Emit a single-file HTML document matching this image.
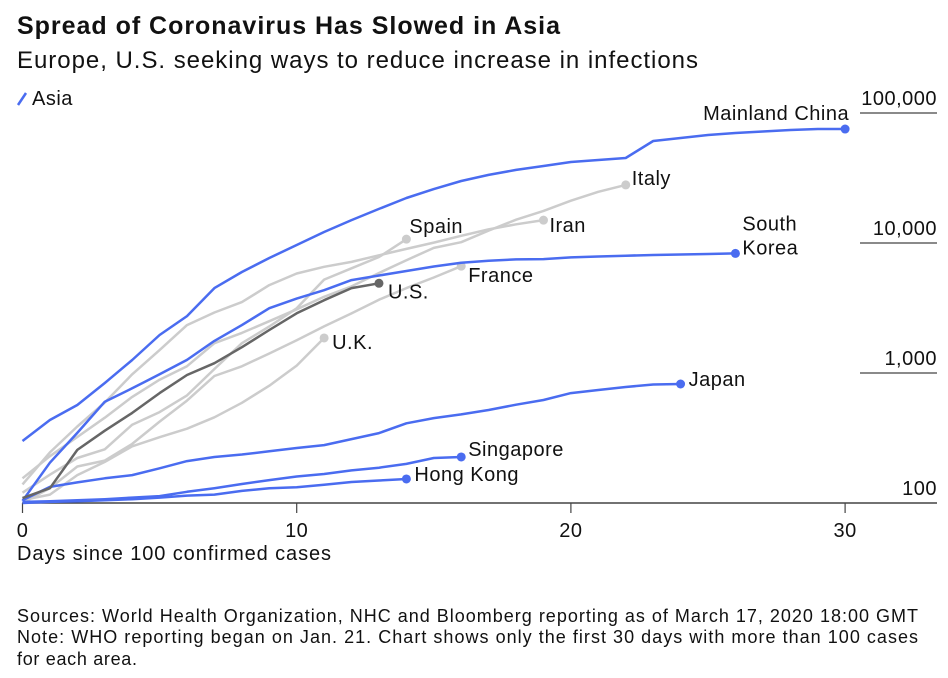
<!DOCTYPE html>
<html><head><meta charset="utf-8"><style>
body{margin:0;background:#fff;font-family:"Liberation Sans",sans-serif;}
#wrap{position:relative;width:948px;height:678px;overflow:hidden}
svg text{font-family:"Liberation Sans",sans-serif;fill:#111}
.lb{font-size:20px;letter-spacing:0.5px}
</style></head><body>
<div id="wrap">
<svg id="svg" width="948" height="678">
<text x="17" y="34" font-size="25" font-weight="bold" textLength="543" lengthAdjust="spacing">Spread of Coronavirus Has Slowed in Asia</text>
<text x="17" y="68" font-size="24" textLength="681" lengthAdjust="spacing">Europe, U.S. seeking ways to reduce increase in infections</text>
<line x1="18" y1="105" x2="26" y2="93" stroke="#4a6cf0" stroke-width="2.5"/>
<text x="32" y="105" class="lb">Asia</text>
<g id="grid"></g><g id="lines"></g><g id="labels"></g>
<text x="17" y="560" font-size="20" textLength="314" lengthAdjust="spacing">Days since 100 confirmed cases</text>
<text x="17" y="622" font-size="18" textLength="901" lengthAdjust="spacing">Sources: World Health Organization, NHC and Bloomberg reporting as of March 17, 2020 18:00 GMT</text>
<text x="17" y="643" font-size="18" textLength="901" lengthAdjust="spacing">Note: WHO reporting began on Jan. 21. Chart shows only the first 30 days with more than 100 cases</text>
<text x="17" y="665" font-size="18" textLength="120" lengthAdjust="spacing">for each area.</text>
</svg></div>
<script>
const xTicks=[0,10,20,30];
const yTicks=[100,1000,10000,100000];
const yTickLabels=["100","1,000","10,000","100,000"];
const china=[300,435,567,838,1260,1960,2740,4500,5980,7670,9650,12150,15000,18300,22200,26000,30000,33400,36500,39100,42000,43500,45100,60900,64200,67700,70200,72100,74000,75300,75300];
const korea=[104,204,346,602,763,977,1261,1766,2337,3150,3736,4335,5186,5621,6088,6593,7041,7313,7478,7513,7755,7869,7979,8086,8162,8236,8320];
const japan=[105,133,144,155,164,185,210,226,236,250,265,279,310,345,410,450,480,519,570,620,700,740,780,815,823];
const singapore=[102,103,105,107,110,113,122,130,140,150,160,167,178,187,200,222,226];
const hongkong=[100,102,103,105,107,110,114,116,124,130,132,138,145,149,153];
const italy=[155,229,322,453,655,888,1128,1694,2036,2502,3089,3858,4636,5883,7375,9172,10149,12462,15113,17660,21157,24747,27980];
const iran=[139,245,388,593,978,1501,2336,2922,3513,4747,5823,6566,7161,8042,9000,10075,11364,12729,13938,14991];
const spain=[120,165,222,259,400,500,673,1073,1695,2277,3146,5232,6391,7798,10700];
const france=[100,130,191,212,285,423,613,949,1126,1412,1784,2281,2876,3661,4499,5423,6633];
const uk=[105,116,164,207,273,321,373,456,590,798,1140,1860];
const us=[109,130,256,360,493,700,965,1190,1580,2140,2880,3630,4500,4900];
const series=[
 {n:"italy",d:italy,c:"#cccccc",lab:"Italy",dx:6,dy:0},
 {n:"iran",d:iran,c:"#cccccc",lab:"Iran",dx:6,dy:12},
 {n:"spain",d:spain,c:"#cccccc",lab:"Spain",dx:3,dy:-6},
 {n:"france",d:france,c:"#cccccc",lab:"France",dx:7,dy:16},
 {n:"uk",d:uk,c:"#cccccc",lab:"U.K.",dx:8,dy:11},
 {n:"china",d:china,c:"#4a6cf0",lab:"Mainland China",dx:4,dy:-9,anchor:"end"},
 {n:"korea",d:korea,c:"#4a6cf0",lab:"Korea",dx:7,dy:1,lab2:"South"},
 {n:"japan",d:japan,c:"#4a6cf0",lab:"Japan",dx:8,dy:2},
 {n:"singapore",d:singapore,c:"#4a6cf0",lab:"Singapore",dx:7,dy:-1},
 {n:"hongkong",d:hongkong,c:"#4a6cf0",lab:"Hong Kong",dx:8,dy:2},
 {n:"us",d:us,c:"#666666",lab:"U.S.",dx:9,dy:15}
];
const X=d=>22.5+d*27.42;
const Y=v=>503-130*Math.log10(v/100);
const NS="http://www.w3.org/2000/svg";
function mk(t,a,p){const e=document.createElementNS(NS,t);for(const k in a)e.setAttribute(k,a[k]);p.appendChild(e);return e;}
const grid=document.getElementById('grid'),lines=document.getElementById('lines'),labels=document.getElementById('labels');
yTicks.forEach((v,i)=>{
 const y=Y(v);
 const l=mk('line',{x1:i===0?22:860,x2:937,y1:y,y2:y,stroke:"#444","stroke-width":i===0?1.5:1.2},grid);
 
 
 const t=mk('text',{x:937,y:y-8,"text-anchor":"end","class":"lb"},grid);
 t.textContent=yTickLabels[i];
 
 
});
xTicks.forEach(d=>{
 const x=X(d);
 const l=mk('line',{x1:x,x2:x,y1:503,y2:513,stroke:"#444","stroke-width":1.2},grid);
 
 
 const t=mk('text',{x:x,y:537,"text-anchor":"middle","class":"lb"},grid);
 t.textContent=d;
 
 
});
series.forEach(s=>{
 const pts=s.d.map((v,i)=>X(i).toFixed(1)+","+Y(v).toFixed(1)).join(" ");
 const p=mk('polyline',{points:pts,fill:"none",stroke:s.c,"stroke-width":2.5,"stroke-linejoin":"round"},lines);
 
 
 const li=s.d.length-1,ex=X(li),ey=Y(s.d[li]);
 const c=mk('circle',{cx:ex,cy:ey,r:4.5,fill:s.c},lines);
 
 
 const t=mk('text',{x:ex+s.dx,y:ey+s.dy,"text-anchor":s.anchor||"start","class":"lb"},labels);
 t.textContent=s.lab;
 
 
 if(s.lab2){
  const t2=mk('text',{x:ex+s.dx,y:ey-23,"class":"lb"},labels);
  t2.textContent=s.lab2;
  
  
 }
});
</script>
</body></html>
